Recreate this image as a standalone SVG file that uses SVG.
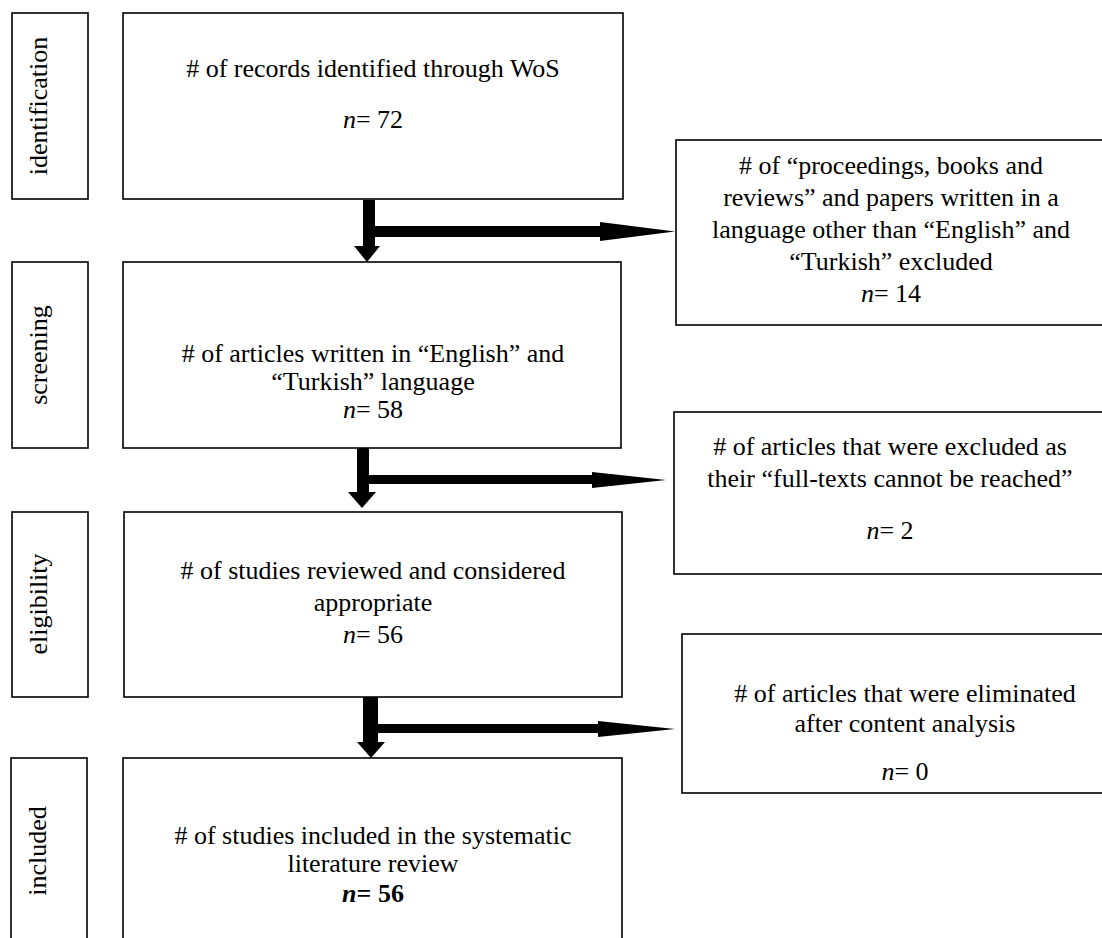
<svg xmlns="http://www.w3.org/2000/svg" width="1102" height="938" viewBox="0 0 1102 938">
<style>
.box{fill:#fff;stroke:#000;stroke-width:1.6}
.t{font-family:"Liberation Serif","Times New Roman",serif;font-size:26px;fill:#000;text-anchor:middle}
.i{font-style:italic}
.b{font-weight:bold}
.arr{fill:#000;stroke:none}
</style>
<rect width="1102" height="938" fill="#fff"/>
<g id="label-identification">
<rect class="box" x="12" y="13" width="76" height="186"/>
<text class="t" transform="translate(47,106) rotate(-90)">identification</text>
</g>
<g id="label-screening">
<rect class="box" x="12" y="262" width="76" height="186"/>
<text class="t" transform="translate(47,355) rotate(-90)">screening</text>
</g>
<g id="label-eligibility">
<rect class="box" x="12" y="512" width="76" height="185"/>
<text class="t" transform="translate(47,604) rotate(-90)">eligibility</text>
</g>
<g id="label-included">
<rect class="box" x="11" y="758" width="76" height="190"/>
<text class="t" transform="translate(46,851) rotate(-90)">included</text>
</g>
<g id="box-identified">
<rect class="box" x="123" y="13" width="500" height="186"/>
<text class="t" x="373" y="77"># of records identified through WoS</text>
<text class="t" x="373" y="128"><tspan class="i">n</tspan>= 72</text>
</g>
<g id="box-screened">
<rect class="box" x="123" y="262" width="498" height="186"/>
<text class="t" x="373" y="362"># of articles written in “English” and</text>
<text class="t" x="373" y="390">“Turkish” language</text>
<text class="t" x="373" y="418"><tspan class="i">n</tspan>= 58</text>
</g>
<g id="box-eligible">
<rect class="box" x="124" y="512" width="498" height="185"/>
<text class="t" x="373" y="579"># of studies reviewed and considered</text>
<text class="t" x="373" y="611">appropriate</text>
<text class="t" x="373" y="643"><tspan class="i">n</tspan>= 56</text>
</g>
<g id="box-included">
<rect class="box" x="123" y="758" width="499" height="190"/>
<text class="t" x="373" y="844"># of studies included in the systematic</text>
<text class="t" x="373" y="872">literature review</text>
<text class="t b" x="373" y="902"><tspan class="i">n</tspan>= 56</text>
</g>
<g id="box-excluded-language">
<rect class="box" x="676" y="140" width="440" height="185"/>
<text class="t" x="891" y="174"># of “proceedings, books and</text>
<text class="t" x="891" y="206">reviews” and papers written in a</text>
<text class="t" x="891" y="238">language other than “English” and</text>
<text class="t" x="891" y="270">“Turkish” excluded</text>
<text class="t" x="891" y="302"><tspan class="i">n</tspan>= 14</text>
</g>
<g id="box-excluded-fulltext">
<rect class="box" x="674" y="412" width="440" height="162"/>
<text class="t" x="890" y="455"># of articles that were excluded as</text>
<text class="t" x="890" y="487">their “full-texts cannot be reached”</text>
<text class="t" x="890" y="539"><tspan class="i">n</tspan>= 2</text>
</g>
<g id="box-eliminated">
<rect class="box" x="682" y="634" width="450" height="159"/>
<text class="t" x="905" y="702"># of articles that were eliminated</text>
<text class="t" x="905" y="732">after content analysis</text>
<text class="t" x="905" y="780"><tspan class="i">n</tspan>= 0</text>
</g>
<g id="connectors">
<rect class="arr" x="363" y="200" width="12" height="46"/>
<polygon class="arr" points="354,246 380,246 367,262"/>
<rect class="arr" x="375" y="226" width="226" height="11"/>
<polygon class="arr" points="600,222 675,231.5 600,241"/>
<rect class="arr" x="357" y="448" width="12" height="44"/>
<polygon class="arr" points="348,492 376,492 362,508"/>
<rect class="arr" x="369" y="475" width="224" height="9"/>
<polygon class="arr" points="592,472 666,480 592,488"/>
<rect class="arr" x="363" y="697" width="15" height="45"/>
<polygon class="arr" points="357,742 385,742 371,758"/>
<rect class="arr" x="378" y="724" width="221" height="9"/>
<polygon class="arr" points="598,721 675,729 598,737"/>
</g>
</svg>
